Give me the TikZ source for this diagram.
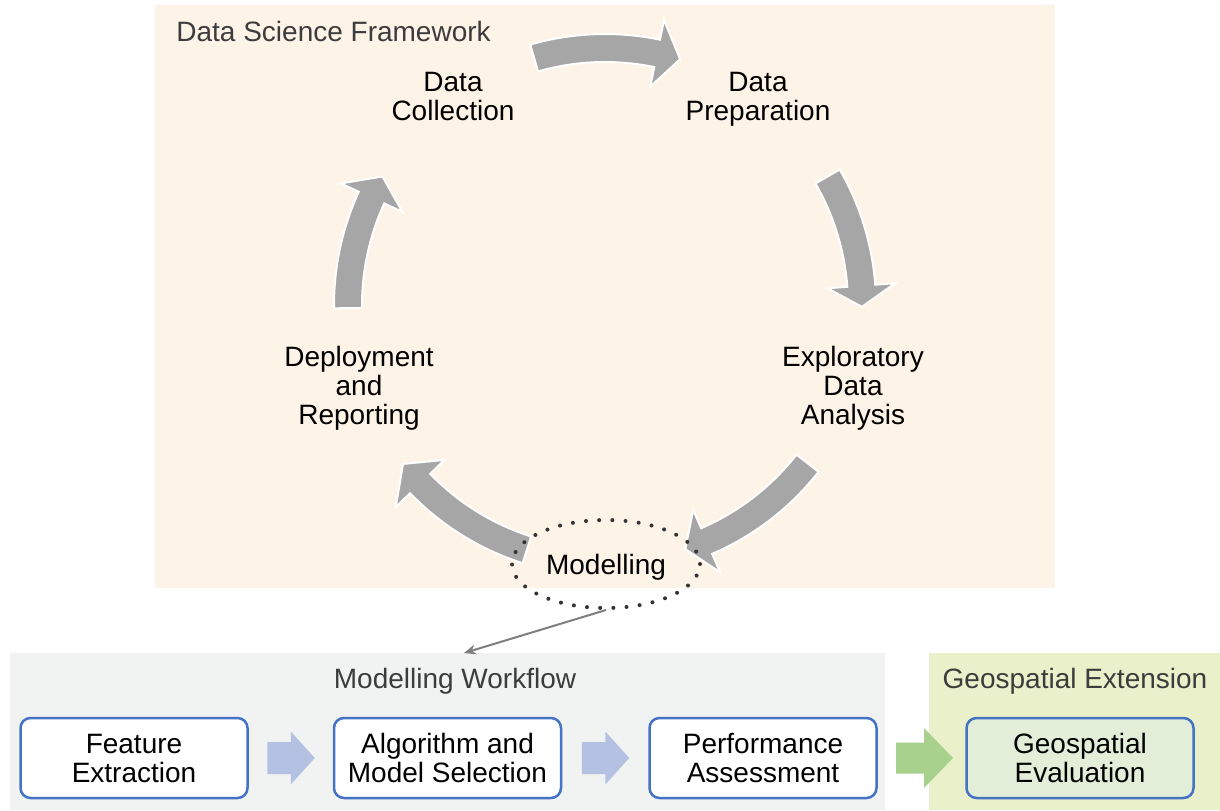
\documentclass[tikz,border=0pt]{standalone}
\usepackage{fontspec}
\setmainfont{Liberation Sans}
\usetikzlibrary{shapes.geometric,arrows.meta,calc}
\definecolor{peach}{HTML}{FDF3E7}
\definecolor{wfgray}{HTML}{F1F2F2}
\definecolor{geogreen}{HTML}{EAF0C9}
\definecolor{boxblue}{HTML}{4472C4}
\definecolor{geofill}{HTML}{E2EED8}
\definecolor{arrgray}{HTML}{A6A6A6}
\definecolor{fatblue}{HTML}{B4C1E2}
\definecolor{fatgreen}{HTML}{A9D18E}
\definecolor{titlegray}{HTML}{3C3C3C}
\definecolor{dotgray}{HTML}{333333}
\definecolor{linkgray}{HTML}{7F7F7F}
\newcommand\cycarrow[3]{%
  \filldraw[cycarr] plot[variable=\t,domain=#1:#2,samples=24] ({605+271*cos(\t)},{305-271*sin(\t)})
  -- ({605+291*cos(#2)},{305-291*sin(#2)})
  -- ({605+257*cos(#3)},{305-257*sin(#3)})
  -- ({605+223*cos(#2)},{305-223*sin(#2)})
  -- plot[variable=\t,domain=#2:#1,samples=24] ({605+243*cos(\t)},{305-243*sin(\t)}) -- cycle;}
\newcommand\fatarr[6]{%
  \fill[#1] (#2) ++(-#3,-#5) -- ++(#3,0) -- ++(0,{#5-#6}) -- ++(#4,#6) -- ++(-#4,#6) -- ++(0,{#5-#6}) -- ++(-#3,0) -- cycle;}
\begin{document}
\begin{tikzpicture}[x=0.5pt,y=-0.5pt,
  every node/.style={font=\fontsize{14}{14.5}\selectfont},
  lbl/.style={align=center,inner sep=0pt,text=black},
  titletxt/.style={inner sep=0pt,text=titlegray},
  cycarr/.style={fill=arrgray,draw=white,line width=1pt,line join=miter},
  modell/.style={ellipse,draw=dotgray,line width=2pt,dash pattern=on 0pt off 6.6pt,line cap=round,minimum width=94pt,minimum height=44pt,inner sep=0pt,text depth=0pt},
  link/.style={draw=linkgray,line width=1pt,-{Stealth[length=6pt,width=5pt]}},
  wbox/.style={draw=boxblue,line width=1.25pt,rounded corners=5pt,fill=white,minimum width=113.5pt,minimum height=40pt,align=center,inner sep=0pt,text=black}]
\useasboundingbox (0,0) rectangle (1220,810);
\fill[white] (0,0) rectangle (1220,810);
% framework background
\fill[peach] (155,5) rectangle (1055,588);
\node[titletxt,anchor=west] (dsf) at (176,31) {Data Science Framework};
% cycle labels
\node[lbl] (dc) at (453,96) {Data\\Collection};
\node[lbl] (dp) at (758,99) {Data\\Preparation};
\node[lbl] (eda) at (853,388) {Exploratory\\Data\\Analysis};
\node[lbl] (dr) at (359,388) {Deployment\\and\\Reporting};
% cycle arrows
\cycarrow{106}{78.3}{73}
\cycarrow{30}{4.3}{-0.4}
\cycarrow{-38}{-66.7}{-71.8}
\cycarrow{-107.7}{-136}{-141.8}
\cycarrow{180.7}{155.3}{150}
% modelling
\node[modell] (mod) at (606,564) {Modelling};
% bottom regions
\fill[wfgray] (10,653) rectangle (885,810);
\fill[geogreen] (929,653) rectangle (1220,810);
\node[titletxt] (mw) at (455,681) {Modelling Workflow};
\node[titletxt] (ge) at (1075,681) {Geospatial Extension};
\coordinate (wfin) at (464,653);
\draw[link] (mod.south) -- (wfin);
\node[wbox] (fe) at (134,758) {Feature\\Extraction};
\node[wbox] (am) at (447.5,758) {Algorithm and\\Model Selection};
\node[wbox] (pa) at (763,758) {Performance\\Assessment};
\node[wbox,fill=geofill] (gev) at (1080,758) {Geospatial\\Evaluation};
\coordinate (c1) at ($(fe.east)!0.5!(am.west)$);
\coordinate (c2) at ($(am.east)!0.5!(pa.west)$);
\coordinate (c3) at ($(pa.east)!0.5!(gev.west)+(2.5,0)$);
\fatarr{fatblue}{c1}{23.5}{24}{16}{26.5}
\fatarr{fatblue}{c2}{23.5}{24}{16}{26.5}
\fatarr{fatgreen}{c3}{28}{29}{15.5}{30}
\end{tikzpicture}
\end{document}
